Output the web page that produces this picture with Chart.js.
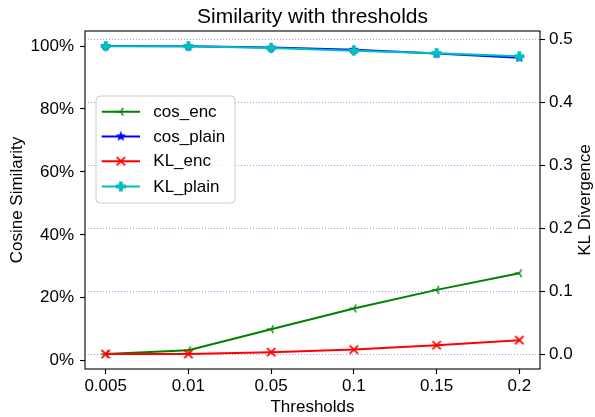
<!DOCTYPE html>
<html>
<head>
<meta charset="utf-8">
<script src="https://cdn.jsdelivr.net/npm/chart.js@4"></script>
<style>
  html, body { margin: 0; padding: 0; background: #ffffff; }
  #wrap { width: 595px; height: 417px; position: relative; }
</style>
</head>
<body>
<div id="wrap"><canvas id="chart" width="595" height="417"></canvas></div>
<script>
// ---- data ----
const categories = ['0.005', '0.01', '0.05', '0.1', '0.15', '0.2'];
const cosEnc   = [2.1, 3.3, 10.0, 16.6, 22.5, 27.8];      // % (left axis)
const cosPlain = [100.0, 99.9, 99.5, 98.8, 97.6, 96.3];   // % (left axis)
const klEnc    = [0.000, 0.000, 0.003, 0.007, 0.014, 0.022]; // right axis
const klPlain  = [0.489, 0.489, 0.486, 0.482, 0.478, 0.473]; // right axis
const leftTicks  = [0, 20, 40, 60, 80, 100];
const rightTicks = [0.0, 0.1, 0.2, 0.3, 0.4, 0.5];
const seriesLabels = ['cos_enc', 'cos_plain', 'KL_enc', 'KL_plain'];

const FONT = "'Liberation Sans', Arial, Helvetica, sans-serif";

function makeMarker(kind, color) {
  const size = 14;
  const c = document.createElement('canvas');
  c.width = size; c.height = size;
  const g = c.getContext('2d');
  const m = size / 2;
  g.strokeStyle = color; g.fillStyle = color;
  if (kind === 'tri_left') {
    const r = 4.5;
    g.lineWidth = 1.4;
    g.beginPath();
    g.moveTo(m, m); g.lineTo(m - r, m);
    g.moveTo(m, m); g.lineTo(m + r * 0.5, m - r * 0.866);
    g.moveTo(m, m); g.lineTo(m + r * 0.5, m + r * 0.866);
    g.stroke();
  } else if (kind === 'star') {
    const ro = 4.6, ri = 1.9;
    g.beginPath();
    for (let i = 0; i < 10; i++) {
      const r = i % 2 === 0 ? ro : ri;
      const a = -Math.PI / 2 + i * Math.PI / 5;
      const px = m + r * Math.cos(a), py = m + r * Math.sin(a);
      if (i === 0) g.moveTo(px, py); else g.lineTo(px, py);
    }
    g.closePath(); g.fill();
    g.lineWidth = 0.8; g.stroke();
  } else if (kind === 'x') {
    const r = 4.2;
    g.lineWidth = 1.8;
    g.beginPath();
    g.moveTo(m - r, m - r); g.lineTo(m + r, m + r);
    g.moveTo(m - r, m + r); g.lineTo(m + r, m - r);
    g.stroke();
  } else if (kind === 'plus') {
    const R = 5, w = 1.9;
    g.beginPath();
    g.moveTo(m - w, m - R); g.lineTo(m + w, m - R); g.lineTo(m + w, m - w);
    g.lineTo(m + R, m - w); g.lineTo(m + R, m + w); g.lineTo(m + w, m + w);
    g.lineTo(m + w, m + R); g.lineTo(m - w, m + R); g.lineTo(m - w, m + w);
    g.lineTo(m - R, m + w); g.lineTo(m - R, m - w); g.lineTo(m - w, m - w);
    g.closePath(); g.fill();
  }
  return c;
}

const colors = ['#008000', '#0000ff', '#ff0000', '#00bfbf'];
const markerKinds = ['tri_left', 'star', 'x', 'plus'];
const markers = markerKinds.map((k, i) => makeMarker(k, colors[i]));
const seriesValues = [cosEnc, cosPlain, klEnc, klPlain];
const seriesAxes = ['yL', 'yL', 'yR', 'yR'];

const datasets = seriesValues.map((vals, i) => ({
  label: seriesLabels[i],
  data: vals.map((v, j) => ({ x: j, y: v })),
  yAxisID: seriesAxes[i],
  borderColor: colors[i],
  backgroundColor: colors[i],
  borderWidth: 2,
  pointStyle: markers[i],
  pointRadius: 5,
  pointHoverRadius: 5,
  tension: 0,
  fill: false,
  order: 3 - i
}));

const PLOT = { left: 85, right: 540, top: 31, bottom: 369 };

const decorPlugin = {
  id: 'decor',
  afterDatasetsDraw(chart) {
    const ctx = chart.ctx;
    const a = chart.chartArea;
    ctx.save();
    // frame
    ctx.strokeStyle = '#000000';
    ctx.lineWidth = 1.1;
    ctx.strokeRect(a.left, a.top, a.right - a.left, a.bottom - a.top);

    // legend
    const bx = 96, by = 96, bw = 139, bh = 107, rr = 4;
    ctx.beginPath();
    ctx.moveTo(bx + rr, by);
    ctx.lineTo(bx + bw - rr, by); ctx.quadraticCurveTo(bx + bw, by, bx + bw, by + rr);
    ctx.lineTo(bx + bw, by + bh - rr); ctx.quadraticCurveTo(bx + bw, by + bh, bx + bw - rr, by + bh);
    ctx.lineTo(bx + rr, by + bh); ctx.quadraticCurveTo(bx, by + bh, bx, by + bh - rr);
    ctx.lineTo(bx, by + rr); ctx.quadraticCurveTo(bx, by, bx + rr, by);
    ctx.closePath();
    ctx.fillStyle = 'rgba(255,255,255,0.8)';
    ctx.fill();
    ctx.strokeStyle = '#cccccc';
    ctx.lineWidth = 1;
    ctx.stroke();
    const rows = [111.7, 136.4, 161.2, 186.5];
    ctx.font = '17px ' + FONT;
    ctx.textBaseline = 'middle';
    ctx.textAlign = 'left';
    chart.data.datasets.forEach((ds, i) => {
      const y = rows[i];
      ctx.strokeStyle = ds.borderColor;
      ctx.lineWidth = 2;
      ctx.beginPath(); ctx.moveTo(101.7, y); ctx.lineTo(140, y); ctx.stroke();
      const mk = ds.pointStyle;
      ctx.drawImage(mk, 120.85 - mk.width / 2, y - mk.height / 2);
      ctx.fillStyle = '#000000';
      ctx.fillText(ds.label, 153.3, y + 0.5);
    });

    // titles
    ctx.fillStyle = '#000000';
    ctx.textAlign = 'center';
    ctx.textBaseline = 'alphabetic';
    ctx.font = '21px ' + FONT;
    ctx.fillText('Similarity with thresholds', (a.left + a.right) / 2, 23.3);
    ctx.font = '17px ' + FONT;
    ctx.fillText('Thresholds', (a.left + a.right) / 2, 412);
    const cy = (a.top + a.bottom) / 2;
    ctx.save();
    ctx.translate(21.5, cy); ctx.rotate(-Math.PI / 2);
    ctx.fillText('Cosine Similarity', 0, 0);
    ctx.restore();
    ctx.save();
    ctx.translate(590, cy); ctx.rotate(-Math.PI / 2);
    ctx.fillText('KL Divergence', 0, 0);
    ctx.restore();
    ctx.restore();
  }
};

const tickFont = { family: FONT, size: 17 };

new Chart(document.getElementById('chart'), {
  type: 'line',
  data: { datasets },
  plugins: [decorPlugin],
  options: {
    responsive: false,
    animation: false,
    devicePixelRatio: 1,
    layout: { padding: { top: PLOT.top, left: 0, right: 0, bottom: 0 } },
    plugins: { legend: { display: false }, title: { display: false }, tooltip: { enabled: false } },
    scales: {
      x: {
        type: 'linear',
        position: 'bottom',
        min: -0.25, max: 5.25,
        afterFit(s) { s.height = 417 - PLOT.bottom; },
        afterBuildTicks(s) { s.ticks = categories.map((c, i) => ({ value: i })); },
        ticks: { font: tickFont, color: '#000000', padding: 2, maxRotation: 0, autoSkip: false,
                 callback: (v) => categories[v] },
        grid: { display: true, drawOnChartArea: false, drawTicks: true, tickLength: 5,
                tickColor: '#000000', tickWidth: 1.1 },
        border: { display: false }
      },
      yL: {
        type: 'linear',
        position: 'left',
        min: -2.64, max: 104.77,
        afterFit(s) { s.width = PLOT.left; },
        afterBuildTicks(s) { s.ticks = leftTicks.map(v => ({ value: v })); },
        ticks: { font: tickFont, color: '#000000', padding: 6, callback: (v) => v + '%' },
        grid: { display: true, drawOnChartArea: false, drawTicks: true, tickLength: 5,
                tickColor: '#000000', tickWidth: 1.1 },
        border: { display: false }
      },
      yR: {
        type: 'linear',
        position: 'right',
        min: -0.0238, max: 0.5132,
        afterFit(s) { s.width = 595 - PLOT.right; },
        afterBuildTicks(s) { s.ticks = rightTicks.map(v => ({ value: v })); },
        ticks: { font: tickFont, color: '#000000', padding: 4, callback: (v) => Number(v).toFixed(1) },
        grid: { display: true, drawOnChartArea: true, drawTicks: true, tickLength: 5,
                color: 'rgba(40,40,255,0.5)', lineWidth: 0.9,
                borderDash: [1, 2], tickBorderDash: [],
                tickColor: '#000000', tickWidth: 1.1 },
        border: { display: false, dash: [1, 2] }
      }
    }
  }
});
</script>
</body>
</html>
